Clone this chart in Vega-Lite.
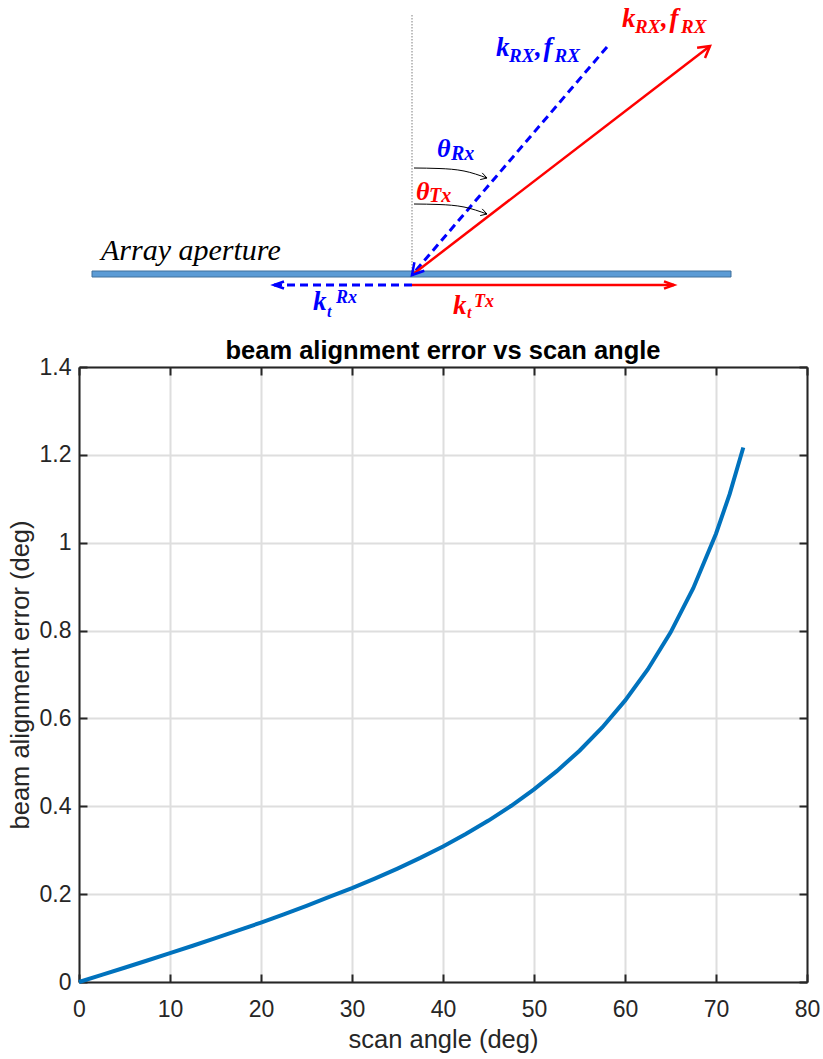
{
  "$schema": "https://vega.github.io/schema/vega-lite/v6.json",
  "background": "white",
  "padding": {"left": 8, "top": 5, "right": 5, "bottom": 3},
  "config": {"view": {"stroke": null}, "font": "Liberation Sans"},
  "spacing": 13,
  "align": "each",
  "datasets": {
    "curve": [
      {"angle": 0, "error": 0}, {"angle": 2.5, "error": 0.0162}, {"angle": 5, "error": 0.0325},
      {"angle": 7.5, "error": 0.049}, {"angle": 10, "error": 0.0656}, {"angle": 12.5, "error": 0.0825},
      {"angle": 15, "error": 0.0997}, {"angle": 17.5, "error": 0.1173}, {"angle": 20, "error": 0.1354},
      {"angle": 22.5, "error": 0.1541}, {"angle": 25, "error": 0.1735}, {"angle": 27.5, "error": 0.1937},
      {"angle": 30, "error": 0.2135}, {"angle": 32.5, "error": 0.2352}, {"angle": 35, "error": 0.2582},
      {"angle": 37.5, "error": 0.2825}, {"angle": 40, "error": 0.3085}, {"angle": 42.5, "error": 0.3368},
      {"angle": 45, "error": 0.3675}, {"angle": 47.5, "error": 0.4012}, {"angle": 50, "error": 0.4385},
      {"angle": 52.5, "error": 0.48}, {"angle": 55, "error": 0.5265}, {"angle": 57.5, "error": 0.5795},
      {"angle": 60, "error": 0.6405}, {"angle": 62.5, "error": 0.7115}, {"angle": 65, "error": 0.7955},
      {"angle": 67.5, "error": 0.8965}, {"angle": 70, "error": 1.0205}, {"angle": 71.5, "error": 1.1105},
      {"angle": 73, "error": 1.2168}
    ],
    "normal": [{"id": "normal", "i": 0, "x": 0, "y": 260}, {"id": "normal", "i": 1, "x": 0, "y": 0}],
    "aperture": [{"x": -320, "x2": 319, "y": 4, "y2": -2}],
    "rays": [
      {"id": "rx-ray", "link": "Rx", "i": 0, "x": 195, "y": 228},
      {"id": "rx-ray", "link": "Rx", "i": 1, "x": 0, "y": 0},
      {"id": "rx-t", "link": "Rx", "i": 0, "x": 0, "y": -10},
      {"id": "rx-t", "link": "Rx", "i": 1, "x": -138, "y": -10},
      {"id": "tx-ray", "link": "Tx", "i": 0, "x": 0, "y": 0},
      {"id": "tx-ray", "link": "Tx", "i": 1, "x": 298, "y": 229},
      {"id": "tx-t", "link": "Tx", "i": 0, "x": 0, "y": -10},
      {"id": "tx-t", "link": "Tx", "i": 1, "x": 262, "y": -10}
    ],
    "heads": [
      {"id": "rx-ray-head", "link": "Rx", "i": 0, "x": 2.4, "y": 12.8},
      {"id": "rx-ray-head", "link": "Rx", "i": 1, "x": 0, "y": 0},
      {"id": "rx-ray-head", "link": "Rx", "i": 2, "x": 12.3, "y": 4.3},
      {"id": "rx-t-head", "link": "Rx", "i": 0, "x": -128, "y": -6.5},
      {"id": "rx-t-head", "link": "Rx", "i": 1, "x": -138, "y": -10},
      {"id": "rx-t-head", "link": "Rx", "i": 2, "x": -128, "y": -13.5},
      {"id": "tx-ray-head", "link": "Tx", "i": 0, "x": 293, "y": 217},
      {"id": "tx-ray-head", "link": "Tx", "i": 1, "x": 298, "y": 229},
      {"id": "tx-ray-head", "link": "Tx", "i": 2, "x": 285.1, "y": 227.3},
      {"id": "tx-t-head", "link": "Tx", "i": 0, "x": 252, "y": -6.3},
      {"id": "tx-t-head", "link": "Tx", "i": 1, "x": 262, "y": -10},
      {"id": "tx-t-head", "link": "Tx", "i": 2, "x": 252, "y": -13.7}
    ],
    "arcs": [
      {"id": "arc-rx", "i": 0, "x": 2, "y": 107}, {"id": "arc-rx", "i": 1, "x": 27, "y": 106.5},
      {"id": "arc-rx", "i": 2, "x": 52, "y": 104}, {"id": "arc-rx", "i": 3, "x": 75, "y": 97},
      {"id": "arc-tx", "i": 0, "x": 2, "y": 71}, {"id": "arc-tx", "i": 1, "x": 27, "y": 70.5},
      {"id": "arc-tx", "i": 2, "x": 52, "y": 68}, {"id": "arc-tx", "i": 3, "x": 75, "y": 61}
    ],
    "archeads": [
      {"id": "arc-rx-head", "i": 0, "x": 68.2, "y": 95.4}, {"id": "arc-rx-head", "i": 1, "x": 75, "y": 97},
      {"id": "arc-rx-head", "i": 2, "x": 70.2, "y": 102.1},
      {"id": "arc-tx-head", "i": 0, "x": 68.2, "y": 59.4}, {"id": "arc-tx-head", "i": 1, "x": 75, "y": 61},
      {"id": "arc-tx-head", "i": 2, "x": 70.2, "y": 66.1}
    ],
    "labels": [
      {"text": "k", "link": "Rx", "part": "vec", "x": 84, "y": 219},
      {"text": "RX", "link": "Rx", "part": "vecsub", "x": 97, "y": 213},
      {"text": ",", "link": "Rx", "part": "vec", "x": 123, "y": 219},
      {"text": "f", "link": "Rx", "part": "vec", "x": 131.5, "y": 219},
      {"text": "RX", "link": "Rx", "part": "vecsub", "x": 142.5, "y": 213},
      {"text": "k", "link": "Tx", "part": "vec", "x": 210, "y": 248},
      {"text": "RX", "link": "Tx", "part": "vecsub", "x": 223, "y": 242},
      {"text": ",", "link": "Tx", "part": "vec", "x": 249, "y": 248},
      {"text": "f", "link": "Tx", "part": "vec", "x": 257.5, "y": 248},
      {"text": "RX", "link": "Tx", "part": "vecsub", "x": 269, "y": 242},
      {"text": "θ", "link": "Rx", "part": "ang", "x": 25, "y": 118},
      {"text": "Rx", "link": "Rx", "part": "angsub", "x": 39, "y": 115},
      {"text": "θ", "link": "Tx", "part": "ang", "x": 4, "y": 75},
      {"text": "Tx", "link": "Tx", "part": "angsub", "x": 17, "y": 73},
      {"text": "k", "link": "Rx", "part": "wave", "x": -99, "y": -35},
      {"text": "t", "link": "Rx", "part": "wavesub", "x": -85, "y": -42},
      {"text": "Rx", "link": "Rx", "part": "wavesup", "x": -76, "y": -28},
      {"text": "k", "link": "Tx", "part": "wave", "x": 41, "y": -39},
      {"text": "t", "link": "Tx", "part": "wavesub", "x": 55, "y": -43},
      {"text": "Tx", "link": "Tx", "part": "wavesup", "x": 62, "y": -32}
    ],
    "caption": [{"text": "Array aperture", "x": -311, "y": 15}]
  },
  "vconcat": [
    {
      "width": 728,
      "height": 315,
      "encoding": {
        "x": {"field": "x", "type": "quantitative", "scale": {"domain": [-333, 395], "nice": false, "zero": false}, "axis": null},
        "y": {"field": "y", "type": "quantitative", "scale": {"domain": [-50, 265], "nice": false, "zero": false}, "axis": null}
      },
      "layer": [
        {
          "data": {"name": "normal"},
          "mark": {"type": "line", "color": "#7f7f7f", "strokeWidth": 1, "strokeDash": [1.5, 1.5]},
          "encoding": {"detail": {"field": "id"}, "order": {"field": "i", "type": "quantitative"}}
        },
        {
          "data": {"name": "aperture"},
          "mark": {"type": "rect", "fill": "#5b9bd5", "stroke": "#41719c", "strokeWidth": 1},
          "encoding": {"x2": {"field": "x2"}, "y2": {"field": "y2"}}
        },
        {
          "data": {"name": "rays"},
          "transform": [{"filter": "datum.link === 'Rx'"}],
          "mark": {"type": "line", "color": "#0000ff", "strokeWidth": 3, "strokeDash": [8, 5]},
          "encoding": {"detail": {"field": "id"}, "order": {"field": "i", "type": "quantitative"}}
        },
        {
          "data": {"name": "rays"},
          "transform": [{"filter": "datum.link === 'Tx'"}],
          "mark": {"type": "line", "color": "#ff0000", "strokeWidth": 2.5},
          "encoding": {"detail": {"field": "id"}, "order": {"field": "i", "type": "quantitative"}}
        },
        {
          "data": {"name": "heads"},
          "mark": {"type": "line", "strokeWidth": 2.5},
          "encoding": {
            "detail": {"field": "id"},
            "order": {"field": "i", "type": "quantitative"},
            "color": {"field": "link", "type": "nominal", "scale": {"domain": ["Rx", "Tx"], "range": ["#0000ff", "#ff0000"]}, "legend": null}
          }
        },
        {
          "data": {"name": "arcs"},
          "mark": {"type": "line", "color": "#000000", "strokeWidth": 1, "interpolate": "monotone"},
          "encoding": {"detail": {"field": "id"}, "order": {"field": "i", "type": "quantitative"}}
        },
        {
          "data": {"name": "archeads"},
          "mark": {"type": "line", "color": "#000000", "strokeWidth": 1},
          "encoding": {"detail": {"field": "id"}, "order": {"field": "i", "type": "quantitative"}}
        },
        {
          "data": {"name": "labels"},
          "mark": {"type": "text", "align": "left", "baseline": "alphabetic", "font": "Liberation Serif", "fontStyle": "italic", "fontWeight": "bold"},
          "encoding": {
            "text": {"field": "text"},
            "color": {"field": "link", "type": "nominal", "scale": {"domain": ["Rx", "Tx"], "range": ["#0000ff", "#ff0000"]}, "legend": null},
            "size": {"field": "part", "type": "ordinal", "scale": {"type": "ordinal", "domain": ["vec", "vecsub", "ang", "angsub", "wave", "wavesub", "wavesup"], "range": [27, 19, 26, 20, 27, 16, 18]}, "legend": null}
          }
        },
        {
          "data": {"name": "caption"},
          "mark": {"type": "text", "align": "left", "baseline": "alphabetic", "font": "Liberation Serif", "fontStyle": "italic", "fontSize": 30, "color": "#000000"},
          "encoding": {"text": {"field": "text"}}
        }
      ]
    },
    {
      "width": 728,
      "height": 615,
      "data": {"name": "curve"},
      "title": {"text": "beam alignment error vs scan angle", "font": "Liberation Sans", "fontSize": 25.5, "fontWeight": "bold", "color": "#000000", "offset": -8, "anchor": "middle"},
      "layer": [
        {
          "mark": {"type": "line", "color": "#0072bd", "strokeWidth": 4},
          "encoding": {
            "x": {
              "field": "angle", "type": "quantitative",
              "scale": {"domain": [0, 80], "nice": false},
              "axis": {
                "orient": "bottom", "values": [0, 10, 20, 30, 40, 50, 60, 70, 80],
                "title": "scan angle (deg)", "titleFont": "Liberation Sans", "titleFontSize": 25.5, "titleFontWeight": "normal", "titleColor": "#262626", "titlePadding": 6,
                "labelFont": "Liberation Sans", "labelFontSize": 23, "labelColor": "#262626", "labelPadding": 24, "labelFlush": false, "labelOverlap": false,
                "tickSize": -8, "tickWidth": 2, "tickColor": "#262626",
                "domainColor": "#262626", "domainWidth": 2,
                "grid": true, "gridColor": "#dedede", "gridWidth": 2
              }
            },
            "y": {
              "field": "error", "type": "quantitative",
              "scale": {"domain": [0, 1.4], "nice": false},
              "axis": {
                "orient": "left", "values": [0, 0.2, 0.4, 0.6, 0.8, 1, 1.2, 1.4], "format": "~g",
                "title": "beam alignment error (deg)", "titleFont": "Liberation Sans", "titleFontSize": 25.5, "titleFontWeight": "normal", "titleColor": "#262626", "titlePadding": 6,
                "labelFont": "Liberation Sans", "labelFontSize": 23, "labelColor": "#262626", "labelPadding": 16, "labelFlush": false, "labelOverlap": false,
                "tickSize": -8, "tickWidth": 2, "tickColor": "#262626",
                "domainColor": "#262626", "domainWidth": 2,
                "grid": true, "gridColor": "#dedede", "gridWidth": 2
              }
            }
          }
        },
        {
          "mark": {"type": "point", "opacity": 0},
          "encoding": {
            "x": {
              "field": "angle", "type": "quantitative",
              "axis": {"orient": "top", "values": [0, 10, 20, 30, 40, 50, 60, 70, 80], "labels": false, "title": null, "grid": false,
                "tickSize": -8, "tickWidth": 2, "tickColor": "#262626", "domainColor": "#262626", "domainWidth": 2}
            },
            "y": {
              "field": "error", "type": "quantitative",
              "axis": {"orient": "right", "values": [0, 0.2, 0.4, 0.6, 0.8, 1, 1.2, 1.4], "labels": false, "title": null, "grid": false,
                "tickSize": -8, "tickWidth": 2, "tickColor": "#262626", "domainColor": "#262626", "domainWidth": 2}
            }
          }
        }
      ],
      "resolve": {"axis": {"x": "independent", "y": "independent"}}
    }
  ]
}
